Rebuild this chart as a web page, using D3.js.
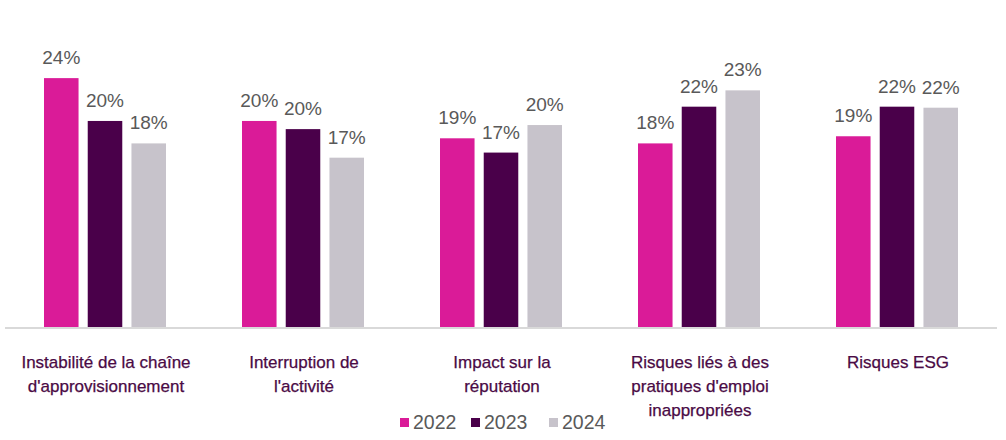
<!DOCTYPE html>
<html>
<head>
<meta charset="utf-8">
<script src="https://cdn.jsdelivr.net/npm/d3@7"></script>
<style>
  body { margin: 0; background: #fff; }
</style>
</head>
<body>
<div id="chart"></div>
<script>
// Data
const categories = [
  ["Instabilité de la chaîne", "d'approvisionnement"],
  ["Interruption de", "l'activité"],
  ["Impact sur la", "réputation"],
  ["Risques liés à des", "pratiques d'emploi", "inappropriées"],
  ["Risques ESG"]
];
const years = ["2022", "2023", "2024"];
const values2022 = [24.4, 20.2, 18.5, 18.0, 18.7];
const values2023 = [20.2, 19.4, 17.1, 21.6, 21.6];
const values2024 = [18.0, 16.6, 19.8, 23.2, 21.5];
const labels2022 = ["24%", "20%", "19%", "18%", "19%"];
const labels2023 = ["20%", "20%", "17%", "22%", "22%"];
const labels2024 = ["18%", "17%", "20%", "23%", "22%"];
const colors = ["#da1b98", "#4a004a", "#c7c3cb"];

const series = [values2022, values2023, values2024];
const seriesLabels = [labels2022, labels2023, labels2024];

const width = 1006;
const height = 440;
const baseline = 327;

const svg = d3.select("#chart")
  .append("svg")
  .attr("width", width)
  .attr("height", height);

const x0 = d3.scaleBand()
  .domain(d3.range(categories.length))
  .range([6, 996])
  .padding(0);

const groupWidth = 122;
const x1 = d3.scaleBand()
  .domain(d3.range(years.length))
  .range([(x0.bandwidth() - groupWidth) / 2, (x0.bandwidth() + groupWidth) / 2])
  .paddingInner(0.21);

const y = d3.scaleLinear()
  .domain([0, 30])
  .range([baseline, baseline - 306]);

// bars and labels
const groups = svg.append("g")
  .selectAll("g")
  .data(categories.map((c, i) => i))
  .join("g")
  .attr("transform", i => `translate(${x0(i)},0)`);

groups.selectAll("rect")
  .data(i => series.map((s, k) => ({ k, v: s[i], label: seriesLabels[k][i] })))
  .join("rect")
  .attr("x", d => x1(d.k))
  .attr("width", x1.bandwidth())
  .attr("y", d => y(d.v))
  .attr("height", d => y(0) - y(d.v))
  .attr("fill", d => colors[d.k]);

groups.selectAll("text.val")
  .data(i => series.map((s, k) => ({ k, v: s[i], label: seriesLabels[k][i] })))
  .join("text")
  .attr("class", "val")
  .attr("x", d => x1(d.k) + x1.bandwidth() / 2)
  .attr("y", d => y(d.v) - 14)
  .attr("text-anchor", "middle")
  .attr("font-family", "'Liberation Sans', Arial, sans-serif")
  .attr("font-size", 19)
  .attr("fill", "#595959")
  .text(d => d.label);

// baseline
svg.append("line")
  .attr("x1", x0.range()[0] - 1)
  .attr("x2", x0.range()[1] + 1)
  .attr("y1", baseline + 1)
  .attr("y2", baseline + 1)
  .attr("stroke", "#d9d9d9")
  .attr("stroke-width", 2);

// category labels
groups.append("text")
  .attr("text-anchor", "middle")
  .attr("font-family", "'Liberation Sans', Arial, sans-serif")
  .attr("font-size", 17)
  .attr("fill", "#4a0a45")
  .attr("stroke", "#4a0a45")
  .attr("stroke-width", 0.25)
  .selectAll("tspan")
  .data(i => categories[i])
  .join("tspan")
  .attr("x", x0.bandwidth() / 2 + 1)
  .attr("y", (d, j) => 368 + j * 24)
  .text(d => d);

// legend
const legendX = [400, 471, 549];
const legend = svg.append("g")
  .selectAll("g")
  .data(years)
  .join("g")
  .attr("transform", (d, i) => `translate(${legendX[i]},0)`);

legend.append("rect")
  .attr("y", 418)
  .attr("width", 9)
  .attr("height", 9)
  .attr("fill", (d, i) => colors[i]);

legend.append("text")
  .attr("x", 13)
  .attr("y", 429)
  .attr("font-family", "'Liberation Sans', Arial, sans-serif")
  .attr("font-size", 19.5)
  .attr("fill", "#595959")
  .text(d => d);
</script>
</body>
</html>
